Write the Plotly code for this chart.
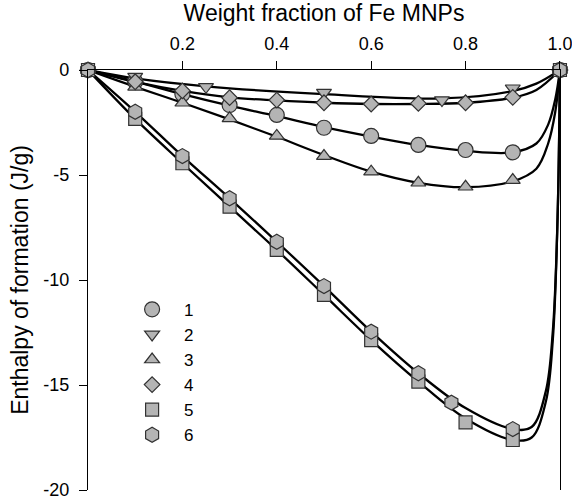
import plotly.graph_objects as go

# ---- measured points (markers) ----
x1 = [0, 0.1, 0.2, 0.3, 0.4, 0.5, 0.6, 0.7, 0.8, 0.9, 1.0]
y1 = [0, -0.55, -1.15, -1.67, -2.14, -2.75, -3.14, -3.57, -3.81, -3.92, 0]

x2 = [0, 0.1, 0.25, 0.5, 0.75, 0.9, 1.0]
y2 = [0, -0.32, -0.80, -1.08, -1.43, -0.87, 0]

x3 = [0, 0.1, 0.2, 0.3, 0.4, 0.5, 0.6, 0.7, 0.8, 0.9, 1.0]
y3 = [0, -0.80, -1.56, -2.30, -3.14, -4.10, -4.84, -5.37, -5.56, -5.24, 0]

x4 = [0, 0.1, 0.2, 0.3, 0.4, 0.5, 0.6, 0.7, 0.8, 0.9, 1.0]
y4 = [0, -0.56, -0.99, -1.32, -1.43, -1.56, -1.62, -1.59, -1.56, -1.30, 0]

x5 = [0, 0.1, 0.2, 0.3, 0.4, 0.5, 0.6, 0.7, 0.8, 0.9, 1.0]
y5 = [0, -2.33, -4.44, -6.51, -8.57, -10.71, -12.86, -14.84, -16.78, -17.62, 0]

x6 = [0, 0.1, 0.2, 0.3, 0.4, 0.5, 0.6, 0.7, 0.77, 0.9, 1.0]
y6 = [0, -1.99, -4.10, -6.11, -8.18, -10.29, -12.46, -14.44, -15.84, -17.10, 0]

# ---- fitted curves ----
fx1 = [0, 0.1, 0.2, 0.3, 0.4, 0.5, 0.6, 0.7, 0.8, 0.9, 0.95, 0.975, 0.99, 1.0]
fy1 = [0, -0.55, -1.15, -1.70, -2.20, -2.72, -3.17, -3.57, -3.85, -3.92, -3.5, -2.6, -1.4, 0]

fx2 = [0, 0.1, 0.25, 0.5, 0.75, 0.9, 0.95, 1.0]
fy2 = [0, -0.40, -0.78, -1.15, -1.35, -1.0, -0.65, 0]

fx3 = [0, 0.1, 0.2, 0.3, 0.4, 0.5, 0.6, 0.7, 0.8, 0.9, 0.95, 0.975, 0.99, 1.0]
fy3 = [0, -0.80, -1.56, -2.35, -3.18, -4.05, -4.84, -5.37, -5.58, -5.30, -4.7, -3.5, -2.0, 0]

fx4 = [0, 0.1, 0.2, 0.3, 0.4, 0.5, 0.6, 0.7, 0.8, 0.9, 0.95, 1.0]
fy4 = [0, -0.56, -0.99, -1.30, -1.45, -1.56, -1.62, -1.62, -1.56, -1.32, -0.95, 0]

fx5 = [0, 0.1, 0.2, 0.3, 0.4, 0.5, 0.6, 0.7, 0.8, 0.9, 0.94, 0.97, 0.985, 0.995, 1.0]
fy5 = [0, -2.33, -4.44, -6.51, -8.57, -10.71, -12.86, -14.84, -16.60, -17.62, -17.5, -15.8, -12.8, -7.0, 0]

fx6 = [0, 0.1, 0.2, 0.3, 0.4, 0.5, 0.6, 0.7, 0.8, 0.9, 0.94, 0.97, 0.985, 0.995, 1.0]
fy6 = [0, -1.99, -4.10, -6.11, -8.18, -10.29, -12.46, -14.44, -16.10, -17.10, -17.0, -15.3, -12.4, -7.0, 0]

names = ["1", "2", "3", "4", "5", "6"]
symbols = ["circle", "triangle-down", "triangle-up", "diamond", "square", "hexagon"]
sizes = [15, 13, 13, 12, 13, 15]

xticks = [0.2, 0.4, 0.6, 0.8, 1.0]
xticktext = ["0.2", "0.4", "0.6", "0.8", "1.0"]
yticks = [0, -5, -10, -15, -20]
yticktext = ["0", "-5", "-10", "-15", "-20"]

FONT = "Liberation Sans, Arial, sans-serif"
FILL = "rgb(180,180,180)"
EDGE = "rgb(50,50,50)"

fig = go.Figure()

fits = [(fx1, fy1), (fx2, fy2), (fx3, fy3), (fx4, fy4), (fx5, fy5), (fx6, fy6)]
for fx, fy in fits:
    fig.add_trace(go.Scatter(
        x=fx, y=fy, mode="lines", showlegend=False, hoverinfo="skip",
        line=dict(color="black", width=2.3, shape="spline", smoothing=1.0),
    ))

pts = [(x1, y1), (x2, y2), (x3, y3), (x4, y4), (x5, y5), (x6, y6)]
for (px, py), nm, sym, sz in zip(pts, names, symbols, sizes):
    fig.add_trace(go.Scatter(
        x=px, y=py, mode="markers", name=nm, cliponaxis=False,
        marker=dict(symbol=sym, size=sz, color=FILL,
                    line=dict(color=EDGE, width=1.2)),
    ))

fig.update_layout(
    width=572, height=504,
    margin=dict(l=88, r=12, t=70, b=14),
    paper_bgcolor="white", plot_bgcolor="white",
    font=dict(family=FONT, size=18, color="black"),
    showlegend=True,
    legend=dict(x=0.068, y=0.472, xanchor="left", yanchor="top",
                bgcolor="rgba(0,0,0,0)", font=dict(size=17),
                itemwidth=54, tracegroupgap=0),
    xaxis=dict(range=[0, 1.0001], side="top", showline=True, linecolor="black",
               linewidth=1.3, ticks="outside", ticklen=8, tickwidth=1.3,
               tickcolor="black", tickvals=xticks, ticktext=xticktext,
               showgrid=False, zeroline=False, automargin=False,
               ticklabelstandoff=4, ticklabeloverflow="allow",
               title=dict(text="Weight fraction of Fe MNPs",
                          font=dict(size=23), standoff=10)),
    yaxis=dict(range=[-20, 0], showline=True, mirror=True, linecolor="black",
               linewidth=1.3, ticks="outside", ticklen=8, tickwidth=1.3,
               tickcolor="black", tickvals=yticks, ticktext=yticktext,
               showgrid=False, zeroline=False, automargin=False,
               ticklabelstandoff=6,
               title=dict(text="Enthalpy of formation (J/g)",
                          font=dict(size=23), standoff=8)),
)

fig.write_html(
    "out.html",
    config={"displayModeBar": False},
    post_script="document.body.style.margin='0px';document.body.style.overflow='hidden';",
)
